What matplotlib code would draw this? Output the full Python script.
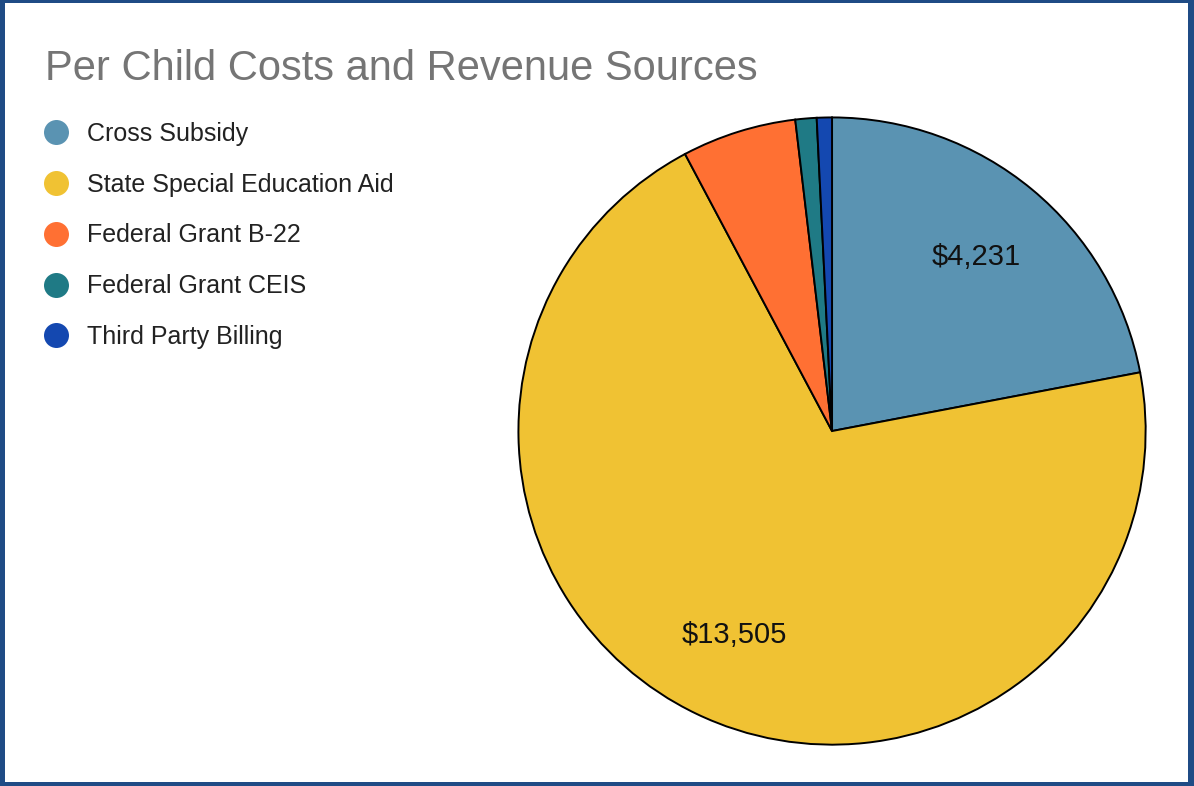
import matplotlib.pyplot as plt
from matplotlib.lines import Line2D
from matplotlib.patches import Rectangle

plt.rcParams['font.family'] = ['Liberation Sans', 'DejaVu Sans']

# revenue sources, per child
sources = ['Cross Subsidy', 'State Special Education Aid', 'Federal Grant B-22',
           'Federal Grant CEIS', 'Third Party Billing']
amounts = [4231, 13505, 1133, 210, 150]
colors = ['#5a93b2', '#f0c233', '#ff7033', '#1f7a85', '#1448b0']

total = sum(amounts)


def money(pct):
    # only the two big slices get a value label
    if pct < 10:
        return ''
    return '${:,}'.format(int(round(pct * total / 100)))


fig = plt.figure(figsize=(11.94, 7.86), dpi=100, facecolor='#1f4b85')
fig.patches.append(Rectangle((5 / 1194, 4 / 786), 1183 / 1194, 779 / 786,
                             transform=fig.transFigure, facecolor='white',
                             edgecolor='none', zorder=-10))

ax = fig.add_axes([0.4347, 0.0534, 0.5243, 0.7964])
ax.patch.set_visible(False)
wedges, texts, autotexts = ax.pie(
    amounts, colors=colors, startangle=90, counterclock=False,
    autopct=money, pctdistance=0.72,
    wedgeprops=dict(edgecolor='black', linewidth=1.4),
    textprops=dict(fontsize=21, color='#111111'))
ax.set_xlim(-0.998, 0.998)
ax.set_ylim(-0.998, 0.998)
ax.set_aspect('equal')

fig.text(45 / 1194, (786 - 80) / 786, 'Per Child Costs and Revenue Sources',
         fontsize=30, color='#757575', va='baseline', ha='left')

handles = [Line2D([], [], linestyle='none', marker='o', markersize=18,
                  markerfacecolor=c, markeredgecolor='none') for c in colors]
fig.legend(handles, sources, loc='upper left',
           bbox_to_anchor=(43 / 1194, 1 - 122 / 786), frameon=False,
           fontsize=18, labelcolor='#222222', handlelength=1.0,
           handletextpad=0.75, labelspacing=1.07, borderaxespad=0,
           borderpad=0)

fig.savefig('out.png', dpi=100, facecolor=fig.get_facecolor())
